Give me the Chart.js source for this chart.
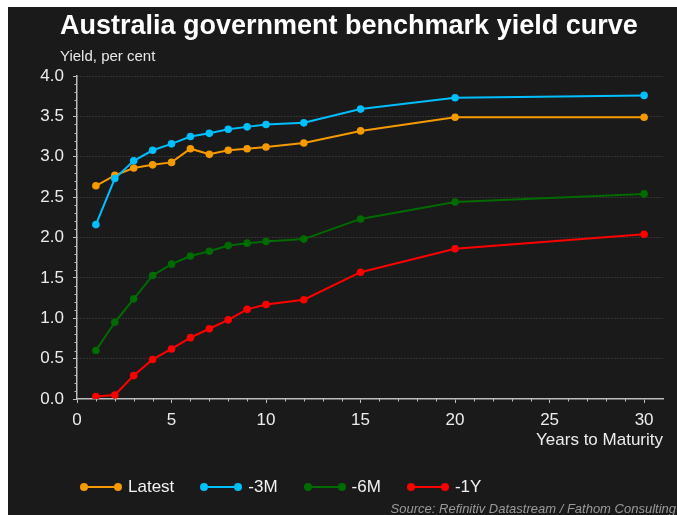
<!DOCTYPE html>
<html>
<head>
<meta charset="utf-8">
<title>Australia government benchmark yield curve</title>
<script src="https://cdn.jsdelivr.net/npm/chart.js@4/dist/chart.umd.min.js"></script>
<style>
  html, body { margin: 0; padding: 0; background: #ffffff; width: 677px; height: 515px; overflow: hidden; }
  body { position: relative; font-family: "Liberation Sans", Arial, sans-serif; }
  #panel { position: absolute; left: 8px; top: 7px; width: 669px; height: 508px; background: #1a1a1a; }
  #chart { position: absolute; left: 8px; top: 7px; }
  .txt { position: absolute; white-space: nowrap; margin: 0; }
  #title { left: 60px; top: 12px; font-size: 27px; line-height: 27px; font-weight: bold; color: #ffffff; }
  #subtitle { left: 60px; top: 48px; font-size: 15px; line-height: 15px; color: #e8e8e8; }
  #legend { position: absolute; left: 80px; top: 477px; height: 20px; display: flex; align-items: center; }
  .item { display: flex; align-items: center; margin-right: 26px; }
  .mk { position: relative; width: 42px; height: 8px; margin-right: 6px; }
  .mk .ln { position: absolute; left: 4px; right: 4px; top: 3px; height: 2px; }
  .mk .dt { position: absolute; top: 0; width: 8px; height: 8px; border-radius: 50%; }
  .item span.lb { font-size: 17px; line-height: 20px; color: #f2f2f2; }
  #source { right: 1px; top: 502px; font-size: 13px; line-height: 13px; font-style: italic; color: #9a9a9a; }
</style>
</head>
<body>
<div id="panel"></div>
<canvas id="chart" width="669" height="508"></canvas>
<div class="txt" id="title">Australia government benchmark yield curve</div>
<div class="txt" id="subtitle">Yield, per cent</div>
<div id="legend"></div>
<div class="txt" id="source">Source: Refinitiv Datastream / Fathom Consulting</div>
<script>
// Years to maturity of each benchmark bond
const maturities = [1, 2, 3, 4, 5, 6, 7, 8, 9, 10, 12, 15, 20, 30];

// Yields, per cent
const latest = [2.64, 2.77, 2.86, 2.90, 2.93, 3.10, 3.03, 3.08, 3.10, 3.12, 3.17, 3.32, 3.49, 3.49];
const threeMonthsAgo = [2.16, 2.73, 2.95, 3.08, 3.16, 3.25, 3.29, 3.34, 3.37, 3.40, 3.42, 3.59, 3.73, 3.76];
const sixMonthsAgo = [0.60, 0.95, 1.24, 1.53, 1.67, 1.77, 1.83, 1.90, 1.93, 1.95, 1.98, 2.23, 2.44, 2.54];
const oneYearAgo = [0.03, 0.05, 0.29, 0.49, 0.62, 0.76, 0.87, 0.98, 1.11, 1.17, 1.23, 1.57, 1.86, 2.04];

const seriesNames = ['Latest', '-3M', '-6M', '-1Y'];
const seriesValues = [latest, threeMonthsAgo, sixMonthsAgo, oneYearAgo];

// Axis ticks
const yTicks = [0, 0.5, 1, 1.5, 2, 2.5, 3, 3.5, 4];
const xTicks = [0, 5, 10, 15, 20, 25, 30];

const palette = ['#f59b00', '#00bfff', '#006b00', '#ff0000'];
const drawOrder = [1, 0, 2, 3];
const AXIS = '#bdbdbd';
const TEXT = '#ededed';
const FONT = '"Liberation Sans", Arial, sans-serif';

const datasets = seriesNames.map((name, i) => ({
  label: name,
  data: maturities.map((m, j) => ({ x: m, y: seriesValues[i][j] })),
  borderColor: palette[i],
  backgroundColor: palette[i],
  pointBackgroundColor: palette[i],
  pointBorderWidth: 0,
  pointRadius: 3.8,
  borderWidth: 2,
  tension: 0,
  order: drawOrder[i]
}));

// Small unlabelled ticks between the labelled ones
const minorTicks = {
  id: 'minorTicks',
  afterDraw(chart) {
    const { ctx, scales: { x, y } } = chart;
    ctx.save();
    ctx.strokeStyle = AXIS;
    ctx.lineWidth = 1;
    ctx.beginPath();
    for (let v = 1; v <= 30; v++) {
      if (v % 5 === 0) continue;
      const px = Math.round(x.getPixelForValue(v)) + 0.5;
      ctx.moveTo(px, x.top);
      ctx.lineTo(px, x.top + 2.5);
    }
    for (let k = 1; k < 40; k++) {
      if (k % 5 === 0) continue;
      const py = Math.round(y.getPixelForValue(k / 10)) + 0.5;
      ctx.moveTo(y.right - 2.5, py);
      ctx.lineTo(y.right, py);
    }
    ctx.stroke();
    ctx.restore();
  }
};

new Chart(document.getElementById('chart'), {
  type: 'line',
  data: { datasets },
  plugins: [minorTicks],
  options: {
    responsive: false,
    animation: false,
    devicePixelRatio: 1,
    layout: { padding: { top: 69, left: 9, right: 14, bottom: 46 } },
    plugins: { legend: { display: false }, tooltip: { enabled: false }, title: { display: false } },
    scales: {
      x: {
        type: 'linear',
        min: 0,
        max: 31,
        afterBuildTicks: s => { s.ticks = xTicks.map(v => ({ value: v })); },
        afterFit: s => { s.height = 70; },
        ticks: { color: TEXT, font: { family: FONT, size: 17 }, padding: 7, maxRotation: 0, callback: v => String(v) },
        grid: { drawOnChartArea: false, drawTicks: true, tickLength: 4, tickColor: AXIS, tickWidth: 1 },
        border: { display: true, color: AXIS, width: 1.5 },
        title: {
          display: true,
          text: 'Years to Maturity',
          align: 'end',
          color: TEXT,
          font: { family: FONT, size: 17 },
          padding: { top: 0, bottom: 18 }
        }
      },
      y: {
        type: 'linear',
        min: 0,
        max: 4,
        afterBuildTicks: s => { s.ticks = yTicks.map(v => ({ value: v })); },
        afterFit: s => { s.width = 60; },
        ticks: { color: TEXT, font: { family: FONT, size: 17 }, padding: 9, callback: v => Number(v).toFixed(1) },
        grid: {
          drawTicks: true,
          tickLength: 4,
          tickColor: AXIS,
          tickWidth: 1,
          lineWidth: 1,
          color: c => (c.tick && c.tick.value === 0) ? 'rgba(0,0,0,0)' : '#4a4a4a'
        },
        border: { display: true, color: AXIS, width: 1.5, dash: [1, 2] }
      }
    }
  }
});

// Legend: a short line with a dot at each end, then the series name
const legend = document.getElementById('legend');
seriesNames.forEach((name, i) => {
  const item = document.createElement('div');
  item.className = 'item';
  const mk = document.createElement('div');
  mk.className = 'mk';
  const ln = document.createElement('div');
  ln.className = 'ln';
  ln.style.background = palette[i];
  const d1 = document.createElement('div');
  d1.className = 'dt';
  d1.style.left = '0px';
  d1.style.background = palette[i];
  const d2 = document.createElement('div');
  d2.className = 'dt';
  d2.style.right = '0px';
  d2.style.background = palette[i];
  mk.append(ln, d1, d2);
  const lb = document.createElement('span');
  lb.className = 'lb';
  lb.textContent = name;
  item.append(mk, lb);
  legend.appendChild(item);
});
</script>
</body>
</html>
